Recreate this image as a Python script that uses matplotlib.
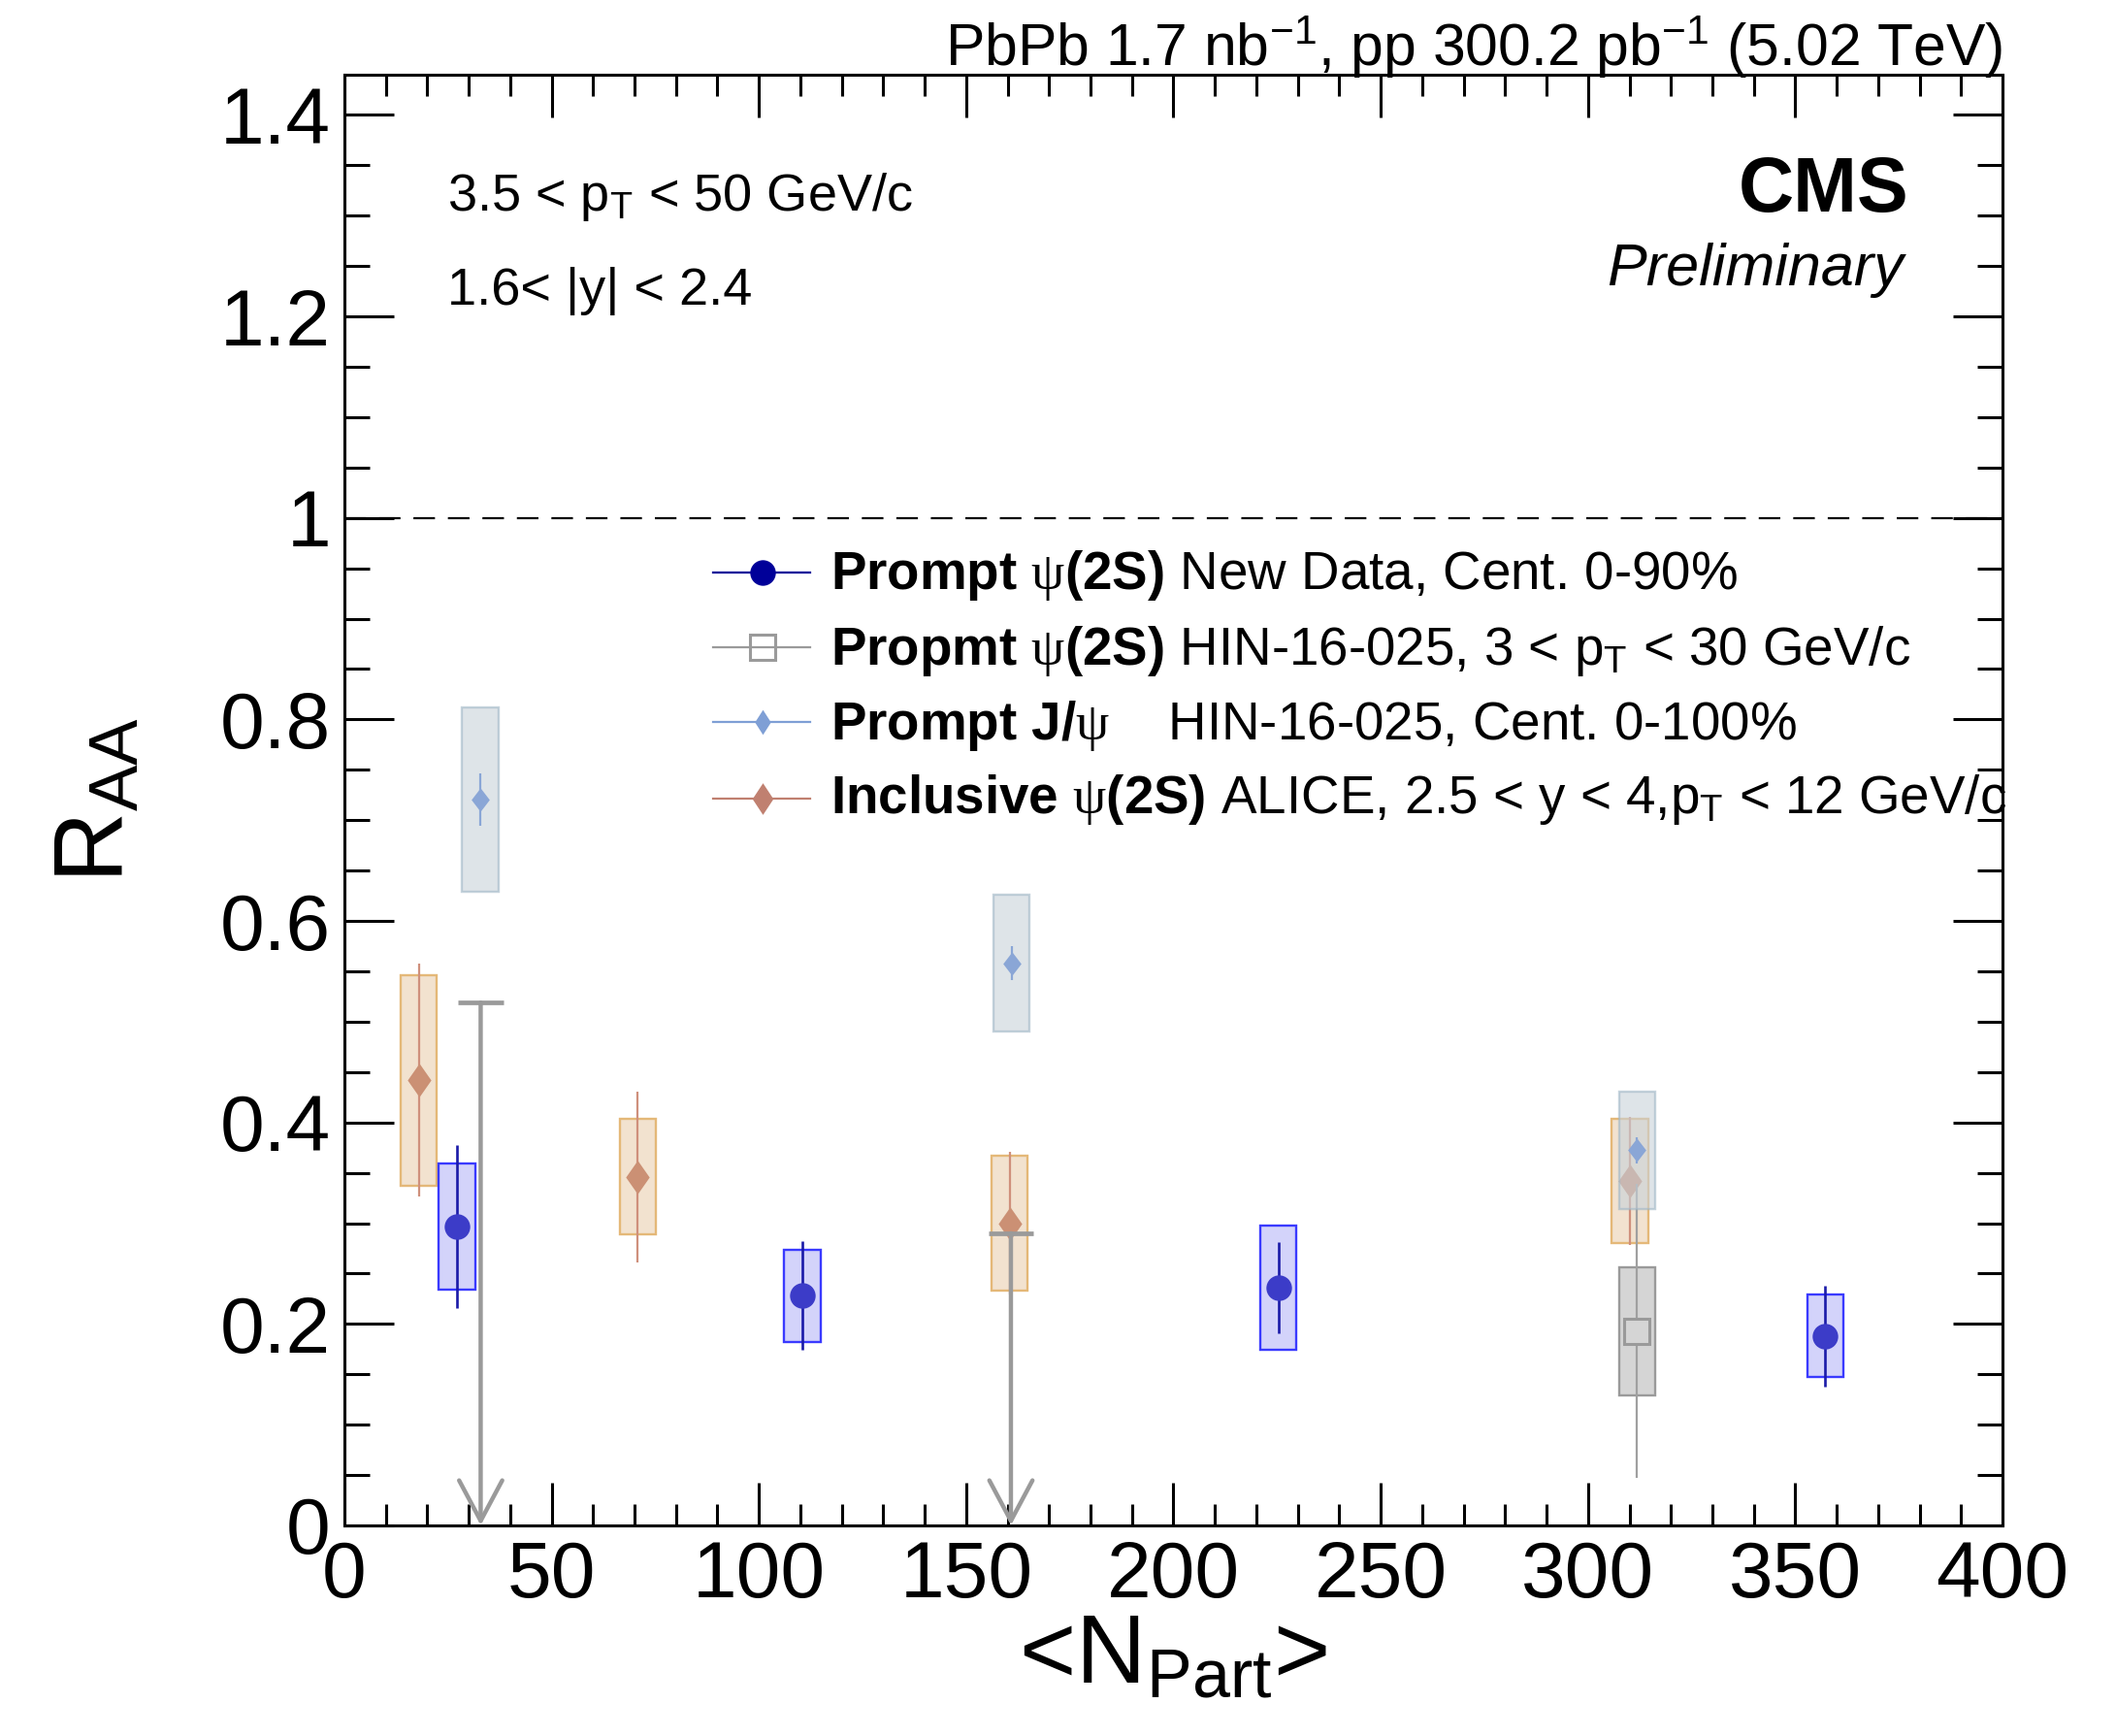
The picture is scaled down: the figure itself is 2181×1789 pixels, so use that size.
import matplotlib
matplotlib.use('Agg')
import matplotlib.pyplot as plt
from matplotlib.ticker import MultipleLocator, FuncFormatter

plt.rcParams['font.family'] = ['Liberation Sans', 'DejaVu Sans']
plt.rcParams['mathtext.fontset'] = 'custom'
plt.rcParams['mathtext.rm'] = 'Liberation Sans'
plt.rcParams['mathtext.it'] = 'Liberation Sans:italic'
plt.rcParams['mathtext.bf'] = 'Liberation Sans:bold'
plt.rcParams['mathtext.sf'] = 'Liberation Serif'

# prompt psi(2S), new data
new_x = [27.2, 110.5, 225.3, 357.2]
new_y = [0.297, 0.228, 0.236, 0.188]
new_stat = [0.081, 0.054, 0.045, 0.050]
new_syst = [0.0625, 0.0455, 0.062, 0.041]

# prompt psi(2S), HIN-16-025 (two upper limits + one point)
lim_x = [32.9, 160.8]
lim_y = [0.519, 0.290]
hin_x = [311.8]
hin_y = [0.193]
hin_stat = [0.146]
hin_syst = [0.0635]

# prompt J/psi, HIN-16-025
jpsi_x = [32.8, 161.0, 311.8]
jpsi_y = [0.720, 0.558, 0.3725]
jpsi_stat = [0.026, 0.017, 0.013]
jpsi_syst = [0.0915, 0.068, 0.0585]

# inclusive psi(2S), ALICE
alice_x = [18.0, 70.8, 160.5, 310.1]
alice_y = [0.442, 0.346, 0.300, 0.342]
alice_stat = [0.1155, 0.085, 0.0705, 0.0633]
alice_syst = [0.1045, 0.0575, 0.067, 0.0617]

box_w = 8.7


def rhomb(r):
    return [(0, 1), (r, 0), (0, -1), (-r, 0), (0, 1)]


fig = plt.figure(figsize=(21.81, 17.89), dpi=100)
ax = fig.add_axes([0.1627, 0.1213, 0.7837, 0.8357])


def boxes(x, y, s, fc, ec, z, alpha=1.0):
    ax.bar(x, [2 * v for v in s], bottom=[a - b for a, b in zip(y, s)], width=box_w,
           color=fc, edgecolor=ec, linewidth=1.7, zorder=z, alpha=alpha)


# ALICE
boxes(alice_x, alice_y, alice_syst, '#f2e2cf', '#e4b878', 2)
ax.errorbar(alice_x, alice_y, yerr=alice_stat, fmt='none', ecolor='#cf907c', elinewidth=1.6, zorder=3)
ax.plot(alice_x, alice_y, linestyle='none', marker=rhomb(0.7), ms=25, color='#cb9074', mec='none', zorder=3.5)

# HIN-16-025 psi(2S)
for lx, ly in zip(lim_x, lim_y):
    ax.annotate('', xy=(lx, 0), xytext=(lx, ly),
                arrowprops=dict(arrowstyle='->,head_length=0.30,head_width=0.16', mutation_scale=100,
                                color='#9a9a9a', lw=3.2, shrinkA=0, shrinkB=0), zorder=4)
ax.hlines(lim_y, [v - 5.4 for v in lim_x], [v + 5.4 for v in lim_x], color='#9a9a9a', lw=3.4, zorder=4)
boxes(hin_x, hin_y, hin_syst, '#d5d5d5', '#9a9a9a', 4)
ax.errorbar(hin_x, hin_y, yerr=hin_stat, fmt='none', ecolor='#a0a0a0', elinewidth=1.6, zorder=4.2)
ax.plot(hin_x, hin_y, linestyle='none', marker='s', ms=19, mfc='#d5d5d5', mec='#9a9a9a', mew=2.2, zorder=4.3)

# J/psi
boxes(jpsi_x, jpsi_y, jpsi_syst, '#c8d2da', '#9fb6c6', 5, alpha=0.6)
ax.errorbar(jpsi_x, jpsi_y, yerr=jpsi_stat, fmt='none', ecolor='#8aa6d6', elinewidth=1.6, zorder=5.5)
ax.plot(jpsi_x, jpsi_y, linestyle='none', marker=rhomb(0.77), ms=17.5, color='#8aa6d6', mec='none', zorder=5.6)

# new data
boxes(new_x, new_y, new_syst, '#d3d3fa', '#3a3aff', 6)
ax.errorbar(new_x, new_y, yerr=new_stat, fmt='none', ecolor='#1a1aa8', elinewidth=1.9, zorder=7)
ax.plot(new_x, new_y, linestyle='none', marker='o', ms=19, color='#3c3cc8', mec='none', zorder=7.1)

ax.axhline(1.0, color='black', lw=1.6, linestyle=(0, (10, 6)), zorder=1)

ax.set_xlim(0, 400)
ax.set_ylim(0, 1.44)
ax.xaxis.set_major_locator(MultipleLocator(50))
ax.xaxis.set_minor_locator(MultipleLocator(10))
ax.yaxis.set_major_locator(MultipleLocator(0.2))
ax.yaxis.set_minor_locator(MultipleLocator(0.05))
ax.yaxis.set_major_formatter(FuncFormatter(lambda v, p: '%g' % round(v, 2)))
ax.tick_params(which='both', direction='in', top=True, right=True, width=2.2, labelsize=59)
ax.tick_params(axis='x', which='major', length=32, pad=11)
ax.tick_params(axis='x', which='minor', length=16)
ax.tick_params(axis='y', which='major', length=37, pad=10)
ax.tick_params(axis='y', which='minor', length=19)
for s in ax.spines.values():
    s.set_linewidth(2.2)

ax.set_xlabel(r'<N$_{\mathrm{Part}}$>', fontsize=72)
ax.xaxis.set_label_coords(0.5, -0.06)
ax.set_ylabel(r'R$_{\mathrm{AA}}$', fontsize=73)
ax.yaxis.set_label_coords(-0.121, 0.5)

ax.text(1.0, 1.006, r'PbPb 1.7 nb$^{\mathrm{-1}}$, pp 300.2 pb$^{\mathrm{-1}}$ (5.02 TeV)',
        transform=ax.transAxes, ha='right', va='baseline', fontsize=43.7)
ax.text(0.062, 0.9064, r'3.5 < p$_{\mathrm{T}}$ < 50 GeV/c', transform=ax.transAxes,
        ha='left', va='baseline', fontsize=39)
ax.text(0.062, 0.8416, '1.6< |y| < 2.4', transform=ax.transAxes, ha='left', va='baseline', fontsize=39)
ax.text(0.9433, 0.9058, 'CMS', transform=ax.transAxes, ha='right', va='baseline',
        fontsize=57, fontweight='bold')
ax.text(0.94, 0.855, 'Preliminary', transform=ax.transAxes, ha='right', va='baseline',
        fontsize=44, style='italic')

# legend
leg_labels = [
    r'$\mathbf{Prompt}\ \mathsf{\psi}\mathbf{(2S)}$ New Data, Cent. 0-90%',
    r'$\mathbf{Propmt}\ \mathsf{\psi}\mathbf{(2S)}$ HIN-16-025, 3 < p$_{\mathrm{T}}$ < 30 GeV/c',
    r'$\mathbf{Prompt\ J/}\mathsf{\psi}$    HIN-16-025, Cent. 0-100%',
    r'$\mathbf{Inclusive}\ \mathsf{\psi}\mathbf{(2S)}$ ALICE, 2.5 < y < 4,p$_{\mathrm{T}}$ < 12 GeV/c',
]
leg_colors = ['#000099', '#9a9a9a', '#7f9fd5', '#c08070']
leg_markers = ['o', 's', rhomb(0.64), rhomb(0.66)]
leg_ms = [19, 19, 18.5, 23.5]
leg_mfc = ['#000099', 'none', '#7f9fd5', '#c08070']
leg_rows = [0.6569, 0.6051, 0.5539, 0.5011]
leg_base = [0.6453, 0.5936, 0.5416, 0.4911]
for lab, c, m, ms, fc, yr, yb in zip(leg_labels, leg_colors, leg_markers, leg_ms, leg_mfc, leg_rows, leg_base):
    ax.plot([0.2225, 0.2810], [yr, yr], color=c, lw=1.6, transform=ax.transAxes, clip_on=False)
    ax.plot([0.252], [yr], marker=m, ms=ms, mfc=fc, mec=c, mew=2.2 if fc == 'none' else 0,
            transform=ax.transAxes, clip_on=False)
    ax.text(0.2932, yb, lab, transform=ax.transAxes, ha='left', va='baseline', fontsize=39.4)

fig.savefig('out.png', dpi=100)
